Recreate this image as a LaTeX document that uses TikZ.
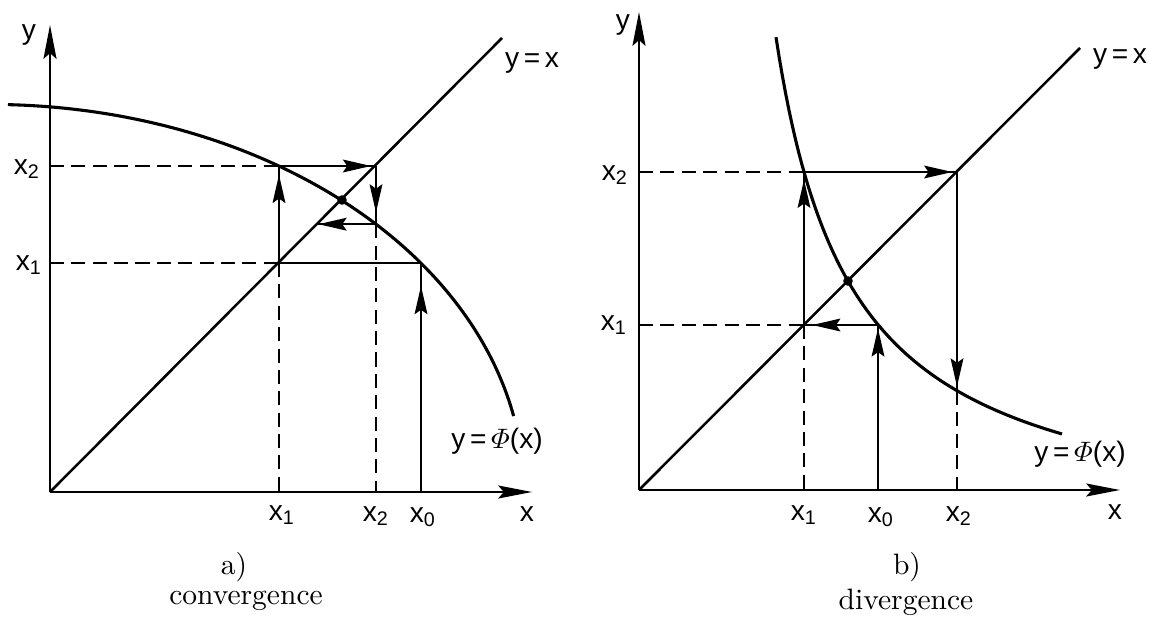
\documentclass[tikz,border=0pt]{standalone}
\usepackage{amsmath}
\usepackage{fontspec}
\setsansfont{Liberation Sans}
\usetikzlibrary{arrows.meta, decorations.markings}

\begin{document}
\begin{tikzpicture}[x=0.0125cm, y=-0.0125cm,
    axis/.style={-{Stealth[length=12pt, width=4.6pt, inset=2pt]}, line width=0.9pt},
    track/.style={line width=0.9pt},
    guide/.style={line width=0.8pt, dash pattern=on 5pt off 2.6pt},
    flow/.style={track, postaction={decorate}, decoration={markings, mark=at position #1 with {\arrow{Stealth[length=10pt, width=4.5pt, inset=1.5pt]}}}},
    phicurve/.style={line width=1.1pt},
    lbl/.style={font=\sffamily\fontsize{10}{12}\selectfont, inner sep=0pt},
    capt/.style={font=\fontsize{10.5}{13}\selectfont, inner sep=0pt}
]
\useasboundingbox (0,0) rectangle (1162,619);

% a) convergence
\coordinate (aO) at (50,492);
\coordinate (aYtip) at (50,25);
\coordinate (aXtip) at (532,492);
\coordinate (aDiag) at (502,38);
\coordinate (aX1) at (279,492);
\coordinate (aX2) at (376,492);
\coordinate (aX0) at (421,492);
\coordinate (aY1) at (50,263);
\coordinate (aY2) at (50,166);
\coordinate (aP0) at (421,263);
\coordinate (aQ1) at (279,263);
\coordinate (aP1) at (279,166);
\coordinate (aQ2) at (376,166);
\coordinate (aP2) at (376,224.2);
\coordinate (aQ3) at (317.8,224.2);
\coordinate (aFix) at (342,200);

\draw[axis] (aO) -- (aYtip);
\draw[axis] (aO) -- (aXtip);
\draw[track] (aO) -- (aDiag);
% y = Phi(x), a quarter of an ellipse
\draw[phicurve] plot[domain=11.3:88.07, samples=90] ({-10+534*cos(\x)}, {492-387.6*sin(\x)});

\draw[guide] (aY2) -- (aP1);
\draw[guide] (aY1) -- (aQ1);
\draw[guide] (aQ1) -- (aX1);
\draw[guide] (aP2) -- (aX2);
\draw[flow=0.9] (aX0) -- (aP0);
\draw[track] (aP0) -- (aQ1);
\draw[flow=0.91] (aQ1) -- (aP1);
\draw[flow=0.95] (aP1) -- (aQ2);
\draw[flow=0.8] (aQ2) -- (aP2);
\draw[flow=0.99] (aP2) -- (aQ3);
\fill (aFix) circle[radius=1.7pt];

\node[lbl] (aLy) at (29,35) {y};
\node[lbl] (aLyx) at (532,63) {y\,=\,x};
\node[lbl] (aLx) at (527,514) {x};
\node[lbl] (aLy2) at (27,169) {x\textsubscript{2}};
\node[lbl] (aLy1) at (29,265) {x\textsubscript{1}};
\node[lbl] (aLx1) at (282,515) {x\textsubscript{1}};
\node[lbl] (aLx2) at (376,516) {x\textsubscript{2}};
\node[lbl] (aLx0) at (423,517) {x\textsubscript{0}};
\node[lbl] (aLphi) at (497,441) {y\,=\,$\varPhi$(x)};
\node[capt] (aCap) at (234,567) {a)};
\node[capt] (aName) at (246,601) {convergence};

% b) divergence
\coordinate (bO) at (639,490);
\coordinate (bYtip) at (639,12);
\coordinate (bXtip) at (1120,490);
\coordinate (bDiag) at (1080,48);
\coordinate (bX1) at (804,490);
\coordinate (bX0) at (878,490);
\coordinate (bX2) at (957,490);
\coordinate (bY1) at (639,325);
\coordinate (bY2) at (639,172);
\coordinate (bP0) at (878,325);
\coordinate (bQ1) at (804,325);
\coordinate (bP1) at (804,172);
\coordinate (bQ2) at (957,172);
\coordinate (bP2) at (957,391);
\coordinate (bFix) at (848,281);

\draw[axis] (bO) -- (bYtip);
\draw[axis] (bO) -- (bXtip);
\draw[track] (bO) -- (bDiag);
% y = Phi(x), a branch of a hyperbola
\draw[phicurve] plot[domain=776:1062, samples=90] (\x, {540-384.34/((\x-699.56)/100)});

\draw[guide] (bY2) -- (bP1);
\draw[guide] (bY1) -- (bQ1);
\draw[guide] (bQ1) -- (bX1);
\draw[guide] (bP2) -- (bX2);
\draw[flow=0.98] (bX0) -- (bP0);
\draw[flow=0.89] (bP0) -- (bQ1);
\draw[flow=0.95] (bQ1) -- (bP1);
\draw[flow=0.97] (bP1) -- (bQ2);
\draw[flow=0.98] (bQ2) -- (bP2);
\fill (bFix) circle[radius=1.7pt];

\node[lbl] (bLy) at (623,25) {y};
\node[lbl] (bLyx) at (1120,59) {y\,=\,x};
\node[lbl] (bLx) at (1115,512) {x};
\node[lbl] (bLy2) at (615,175) {x\textsubscript{2}};
\node[lbl] (bLy1) at (614,325) {x\textsubscript{1}};
\node[lbl] (bLx1) at (804,515) {x\textsubscript{1}};
\node[lbl] (bLx0) at (881,517) {x\textsubscript{0}};
\node[lbl] (bLx2) at (959,516) {x\textsubscript{2}};
\node[lbl] (bLphi) at (1080,454) {y\,=\,$\varPhi$(x)};
\node[capt] (bCap) at (907,567) {b)};
\node[capt] (bName) at (906,602) {divergence};
\end{tikzpicture}
\end{document}
